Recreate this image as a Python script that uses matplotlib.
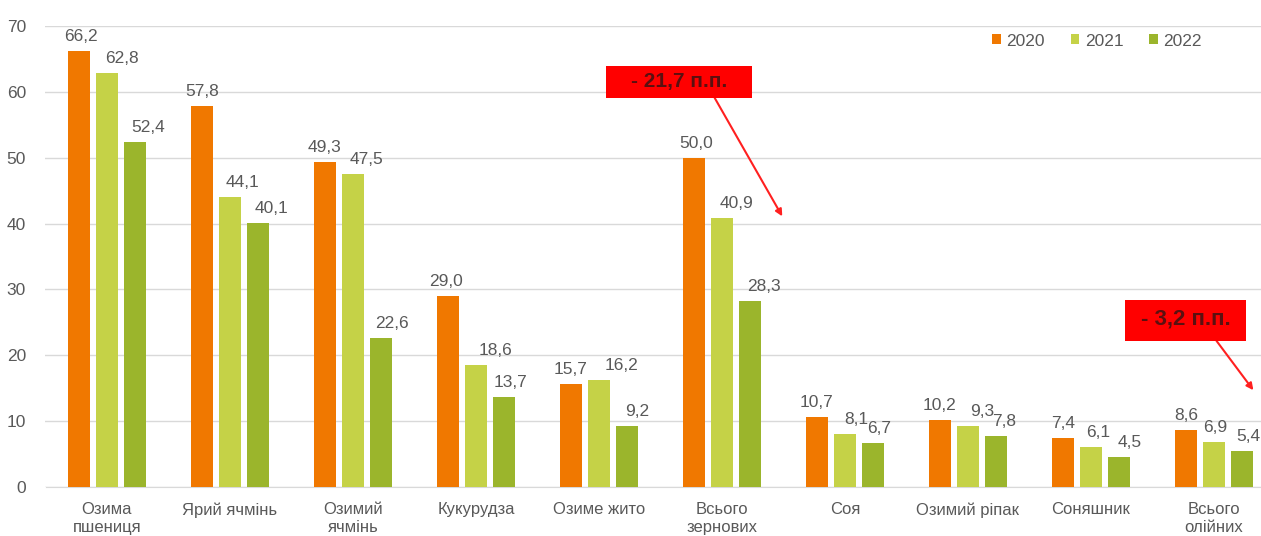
import matplotlib.pyplot as plt
from matplotlib.patches import Rectangle
import numpy as np

plt.rcParams['font.family'] = ['Liberation Sans', 'DejaVu Sans']

categories = ['Озима\nпшениця', 'Ярий ячмінь', 'Озимий\nячмінь', 'Кукурудза', 'Озиме жито',
              'Всього\nзернових', 'Соя', 'Озимий ріпак', 'Соняшник', 'Всього\nолійних']
years = ['2020', '2021', '2022']
v2020 = [66.2, 57.8, 49.3, 29.0, 15.7, 50.0, 10.7, 10.2, 7.4, 8.6]
v2021 = [62.8, 44.1, 47.5, 18.6, 16.2, 40.9, 8.1, 9.3, 6.1, 6.9]
v2022 = [52.4, 40.1, 22.6, 13.7, 9.2, 28.3, 6.7, 7.8, 4.5, 5.4]
colors = ['#f07800', '#c5d247', '#9bb52c']
txt = '#595959'

# horizontal nudges of the value labels (pixels), as they sit in the original
dx2020 = [2, 0, 0, -2, 0, 2, 0, 0, 0, 0]
dx2021 = [15, 13, 13, 20, 22, 14, 11, 14, 7, 1]
dx2022 = [13, 13, 11, 6, 10, 14, 6, 8, 11, 6]

fig = plt.figure(figsize=(12.61, 5.36), dpi=100)
ax = fig.add_axes([45.5 / 1261, 49 / 536, 1230 / 1261, 461 / 536])

x = np.arange(len(categories))
pitch = 0.228
width = 0.18
for i, (vals, c, yr, dx) in enumerate(zip([v2020, v2021, v2022], colors, years,
                                          [dx2020, dx2021, dx2022])):
    xs = x + (i - 1) * pitch
    ax.bar(xs, vals, width, color=c, label=yr, zorder=3)
    for xi, v, d in zip(xs, vals, dx):
        ax.annotate(f'{v:.1f}'.replace('.', ','), (xi, v), xytext=(d * 0.72, 5),
                    textcoords='offset points', ha='center', va='bottom',
                    fontsize=12.5, color=txt)

ax.set_xlim(-0.5, 9.5)
ax.set_ylim(0, 70)
ax.set_yticks(range(0, 71, 10))
ax.grid(axis='y', color='#d9d9d9', linewidth=1, zorder=0)
for s in ['top', 'right', 'left']:
    ax.spines[s].set_visible(False)
ax.spines['bottom'].set_color('#d9d9d9')
ax.tick_params(axis='both', length=0, labelcolor=txt)
ax.tick_params(axis='x', pad=11, labelsize=12)
ax.tick_params(axis='y', pad=14, labelsize=12.5)
ax.set_xticks(x)
ax.set_xticklabels(categories)

ax.legend(loc='center', bbox_to_anchor=(1097 / 1261, 1 - 41 / 536), bbox_transform=fig.transFigure,
          ncol=3, frameon=False, handlelength=0.5, handleheight=0.5, handletextpad=0.3,
          columnspacing=1.5, fontsize=12.5, labelcolor=txt)

# annotations: red boxes with arrows
ax.add_patch(Rectangle((4.06, 59.1), 1.18, 4.8, fc='#ff0000', ec='none', zorder=6))
ax.text(4.65, 61.5, '- 21,7 п.п.', ha='center', va='center', fontsize=15, fontweight='bold',
        color='#5a1010', zorder=7)
ax.annotate('', xy=(5.49, 41.1), xytext=(4.94, 59.1),
            arrowprops=dict(arrowstyle='-|>', color='#ff2020', lw=1.5, mutation_scale=10,
                            shrinkA=0, shrinkB=0), zorder=5)

ax.add_patch(Rectangle((8.28, 22.2), 0.98, 6.2, fc='#ff0000', ec='none', zorder=6))
ax.text(8.77, 25.5, '- 3,2 п.п.', ha='center', va='center', fontsize=16, fontweight='bold',
        color='#5a1010', zorder=7)
ax.annotate('', xy=(9.32, 14.7), xytext=(9.02, 22.2),
            arrowprops=dict(arrowstyle='-|>', color='#ff2020', lw=1.5, mutation_scale=10,
                            shrinkA=0, shrinkB=0), zorder=5)

fig.savefig('out.png', dpi=100)
